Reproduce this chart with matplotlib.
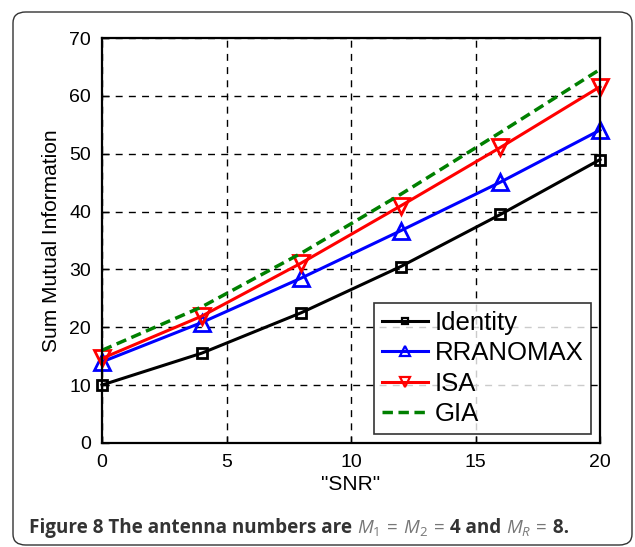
import matplotlib
matplotlib.use("Agg")
import matplotlib.pyplot as plt
from matplotlib.patches import FancyBboxPatch

# SNR points and sum mutual information for each scheme
snr = [0, 4, 8, 12, 16, 20]
identity = [10, 15.5, 22.5, 30.5, 39.5, 49]
rranomax = [14, 20.8, 28.5, 36.7, 45.1, 54.1]
isa = [14.6, 21.9, 31.1, 41.0, 51.1, 61.6]
gia = [16.0, 23.5, 32.8, 43.0, 53.7, 64.6]

x_ticks = [0, 5, 10, 15, 20]
y_ticks = [0, 10, 20, 30, 40, 50, 60, 70]

plt.rcParams['font.family'] = ['Liberation Sans', 'DejaVu Sans']
plt.rcParams['mathtext.fontset'] = 'custom'
plt.rcParams['mathtext.it'] = 'Open Sans:italic'
plt.rcParams['mathtext.rm'] = 'Open Sans'

fig = plt.figure(figsize=(6.35, 5.47), dpi=100)

# rounded frame around the figure
frame = FancyBboxPatch((13 / 635, 2 / 547), 619 / 635, 533 / 547,
                       boxstyle="round,pad=0,rounding_size=0.02",
                       transform=fig.transFigure, facecolor='none',
                       edgecolor='#333333', linewidth=1.0)
fig.patches.append(frame)

ax = fig.add_axes([102 / 635, 1 - 442.8 / 547, 498 / 635, 404.6 / 547])

ax.plot(snr, identity, color='black', lw=2.2, marker='s', ms=7,
        mfc='none', mew=2, label='Identity', clip_on=False)
ax.plot(snr, rranomax, color='blue', lw=2.2, marker='^', ms=11,
        mfc='none', mew=2, label='RRANOMAX', clip_on=False)
ax.plot(snr, isa, color='red', lw=2.2, marker='v', ms=11,
        mfc='none', mew=2, label='ISA', clip_on=False)
ax.plot(snr, gia, color='green', lw=2.5, ls=(0, (3, 1.6)), label='GIA')

ax.set_xlim(0, 20)
ax.set_ylim(0, 70)
ax.set_xticks(x_ticks)
ax.set_yticks(y_ticks)
ax.tick_params(direction='in', length=5, width=1, labelsize=14, pad=8)
ax.grid(True, color='black', ls=(0, (5, 4.5)), lw=1.0)
for s in ax.spines.values():
    s.set_linewidth(1.6)

ax.set_xlabel('"SNR"', fontsize=15, labelpad=3)
ax.set_ylabel('Sum Mutual Information', fontsize=15, labelpad=6)

leg = ax.legend(loc='lower right', fontsize=18.5, frameon=True, fancybox=False,
                borderaxespad=0.35, handlelength=1.8, handletextpad=0.25,
                labelspacing=0.25, borderpad=0.3)
leg.get_frame().set_edgecolor('black')
leg.get_frame().set_linewidth(1.2)
for h, m in zip(leg.legend_handles, [5, 7, 7, 0]):
    h.set_markersize(m)
    h.set_markeredgewidth(1.6)

# caption: bold text with gray italic math parts
cap_y = 1 - 533 / 547
renderer = fig.canvas.get_renderer()
x = 29 / 635
parts = [
    ('Figure 8 The antenna numbers are ', 'bold', '#333333'),
    (r'$M_1\,=\,M_2\,=$', 'normal', '#777777'),
    (' 4 and ', 'bold', '#333333'),
    (r'$M_R\,=$', 'normal', '#777777'),
    (' 8.', 'bold', '#333333'),
]
for txt, weight, col in parts:
    t = fig.text(x, cap_y, txt, fontsize=13.6, fontweight=weight,
                 color=col, family=['Open Sans', 'DejaVu Sans'],
                 va='baseline')
    bb = t.get_window_extent(renderer=renderer)
    x += bb.width / fig.bbox.width

fig.savefig('out.png', dpi=100)
